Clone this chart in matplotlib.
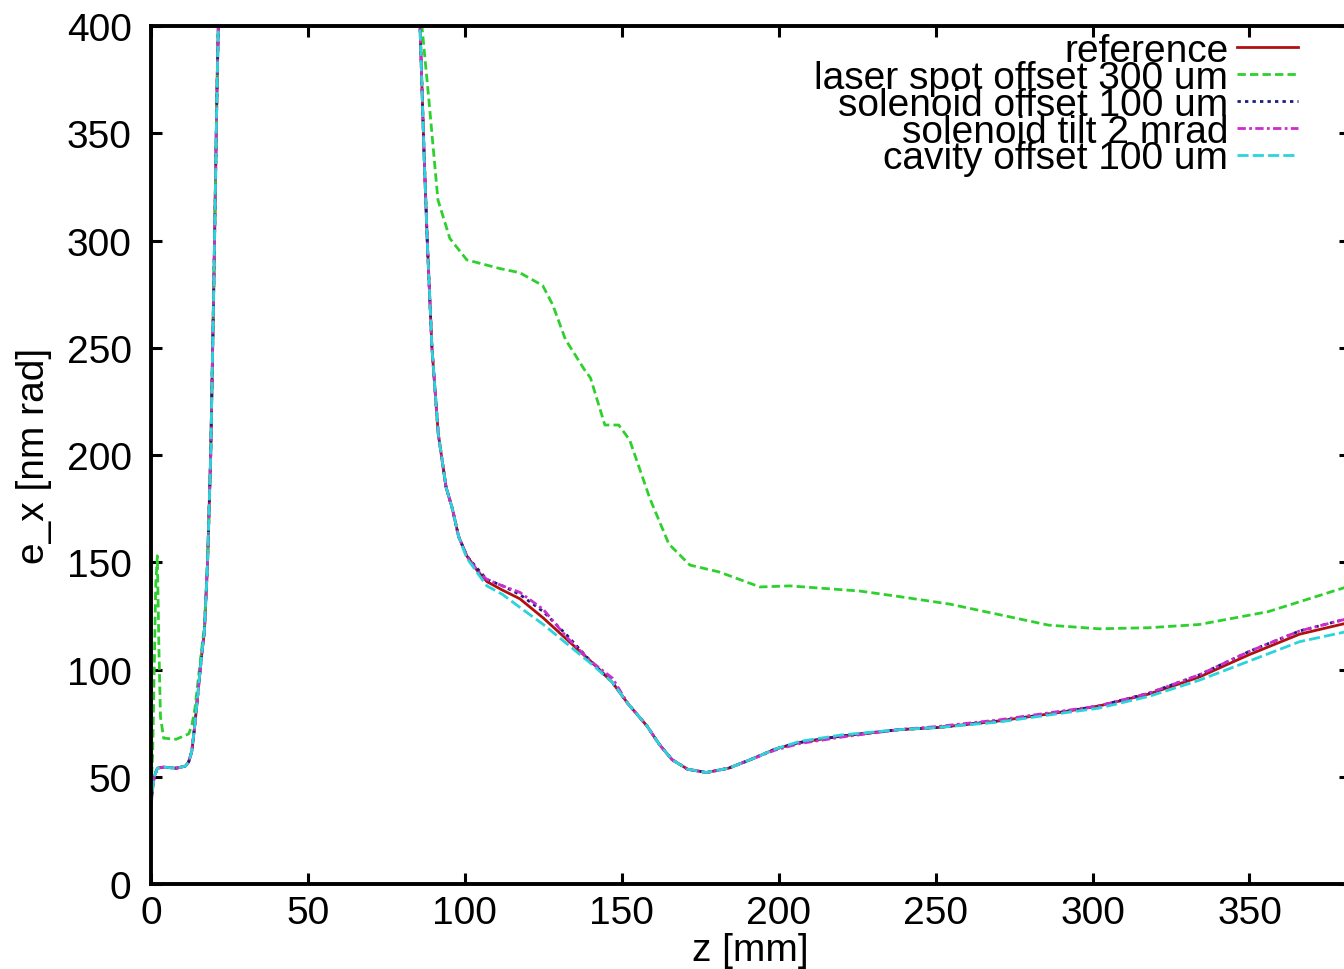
import matplotlib
matplotlib.use("Agg")
import matplotlib.pyplot as plt

plt.rcParams['font.family'] = ['Liberation Sans', 'DejaVu Sans']

# data -----------------------------------------------------------------------
z_main = [0, 0.5, 1, 2, 4, 8, 11, 12, 13, 14, 15, 16, 17, 18, 19, 20, 21, 22,
          85, 85.7, 87, 88, 89.5, 91.5, 94, 96, 98, 100.6, 104, 107, 112, 117.5,
          125, 132.5, 140, 147, 152, 158, 162, 166, 171, 177, 184, 191, 199,
          206.7, 220, 238.5, 251, 270, 289.5, 302, 318, 334, 350, 366, 382]

ex_reference = [38, 45, 50, 54, 54.5, 54, 55, 57, 62, 75, 90, 105, 118, 150, 200, 280, 370, 440,
                440, 400, 340, 300, 250, 210, 185, 175, 162, 153, 146, 141, 137, 133,
                124, 114, 104, 94, 84, 73.7, 65, 58, 53.5, 52, 54, 58, 63,
                66, 69, 72, 73, 76, 80, 83, 88.6, 96.5, 107, 116.5, 122]

ex_sol_offset = [38, 45, 50, 54, 54.5, 54, 55, 57, 62, 75, 90, 105, 118, 150, 200, 280, 370, 440,
                 440, 400, 340, 300, 250, 210, 185, 175, 162, 153, 147, 142, 139, 135,
                 127, 116, 104, 94, 84, 73.7, 65, 58, 53.5, 52, 54, 58, 63,
                 66, 69, 72, 73, 76, 80, 83, 89, 97.5, 108.5, 118, 124]

ex_sol_tilt = [38, 45, 50, 54, 54.5, 54, 55, 57, 62, 75, 90, 105, 118, 150, 200, 280, 370, 440,
               440, 400, 340, 300, 250, 210, 185, 175, 162, 153, 146, 142, 139, 136,
               128, 115, 104, 96, 84, 73.7, 65, 58, 53.5, 52, 54, 58, 62.5,
               65.5, 68.5, 72, 73.5, 76.5, 80.5, 83, 89, 97.5, 108.5, 118, 124]

ex_cav_offset = [36, 44, 50, 54, 54.5, 54, 55, 57, 62, 75, 90, 105, 118, 150, 200, 280, 370, 440,
                 440, 400, 340, 300, 250, 210, 185, 175, 162, 152, 145, 139, 135, 129,
                 121, 112, 103, 94, 84, 73.7, 65, 58, 53.5, 52, 54, 58, 63,
                 66.5, 69.5, 72, 73, 75.5, 79.5, 82, 87.5, 95, 104, 113, 118]

z_laser = [0, 0.5, 1, 1.5, 2, 2.5, 3, 4, 8, 12, 13, 14, 15, 16, 17, 18, 19, 20, 21, 22,
           85, 86.3, 88.5, 91.4, 95.2, 100.6, 111, 117.5, 124.8, 128, 132, 138, 140,
           144.6, 149, 152.5, 159, 165, 171.7, 181, 194, 203.5, 225.8, 238.5, 254.5,
           286, 302, 318, 334, 356, 382]

ex_laser = [45, 60, 100, 140, 153, 110, 78, 68, 67.5, 70, 74, 82, 95, 108, 120, 150, 200, 280, 370, 440,
            440, 400, 366, 319, 301, 291, 287, 285, 279, 270, 254, 240, 236,
            214, 214, 207, 179.5, 158.5, 148.7, 145.5, 138.5, 139, 136.6, 134, 130.5,
            120.7, 119, 119.5, 121, 127, 139]

labels = ['reference', 'laser spot offset 300 um', 'solenoid offset 100 um',
          'solenoid tilt 2 mrad', 'cavity offset 100 um']
# -----------------------------------------------------------------------------

fs = 28

fig = plt.figure(figsize=(13.44, 9.70), dpi=100)
ax = fig.add_axes([0.1124, 0.0876, 0.892, 0.8845])

lw = 2.0
ax.plot(z_main, ex_reference, color='#b01010', lw=lw, ls='-', label=labels[0])
ax.plot(z_laser, ex_laser, color='#2ed02e', lw=lw, ls=(0, (3, 1.5)), label=labels[1])
ax.plot(z_main, ex_sol_offset, color='#1c1c7a', lw=lw, ls=(0, (1.2, 1.5)), label=labels[2])
ax.plot(z_main, ex_sol_tilt, color='#cc2ccc', lw=lw, ls=(0, (3, 1.2, 1, 1.2)), label=labels[3])
ax.plot(z_main, ex_cav_offset, color='#2ad4dc', lw=lw, ls=(0, (4, 1.5)), label=labels[4])

ax.set_xlim(0, 382)
ax.set_ylim(0, 400)
ax.set_xticks(range(0, 351, 50))
ax.set_yticks(range(0, 401, 50))

for s in ax.spines.values():
    s.set_linewidth(2.8)
ax.tick_params(direction='in', top=True, right=True, length=8, width=2.2,
               labelsize=fs)
ax.tick_params(axis='x', pad=8)
ax.tick_params(axis='y', pad=14)

ax.set_xlabel('z [mm]', fontsize=fs)
ax.set_ylabel('e_x [nm rad]', fontsize=fs)
ax.xaxis.set_label_coords(0.5, -0.056)
ax.yaxis.set_label_coords(-0.083, 0.5)

ax.legend(loc='upper right', bbox_to_anchor=(0.957, 0.992), frameon=False,
          markerfirst=False, fontsize=fs, labelspacing=-0.235,
          handlelength=1.57, handletextpad=0.23, borderpad=0, borderaxespad=0)

fig.savefig('out.png', dpi=100)
